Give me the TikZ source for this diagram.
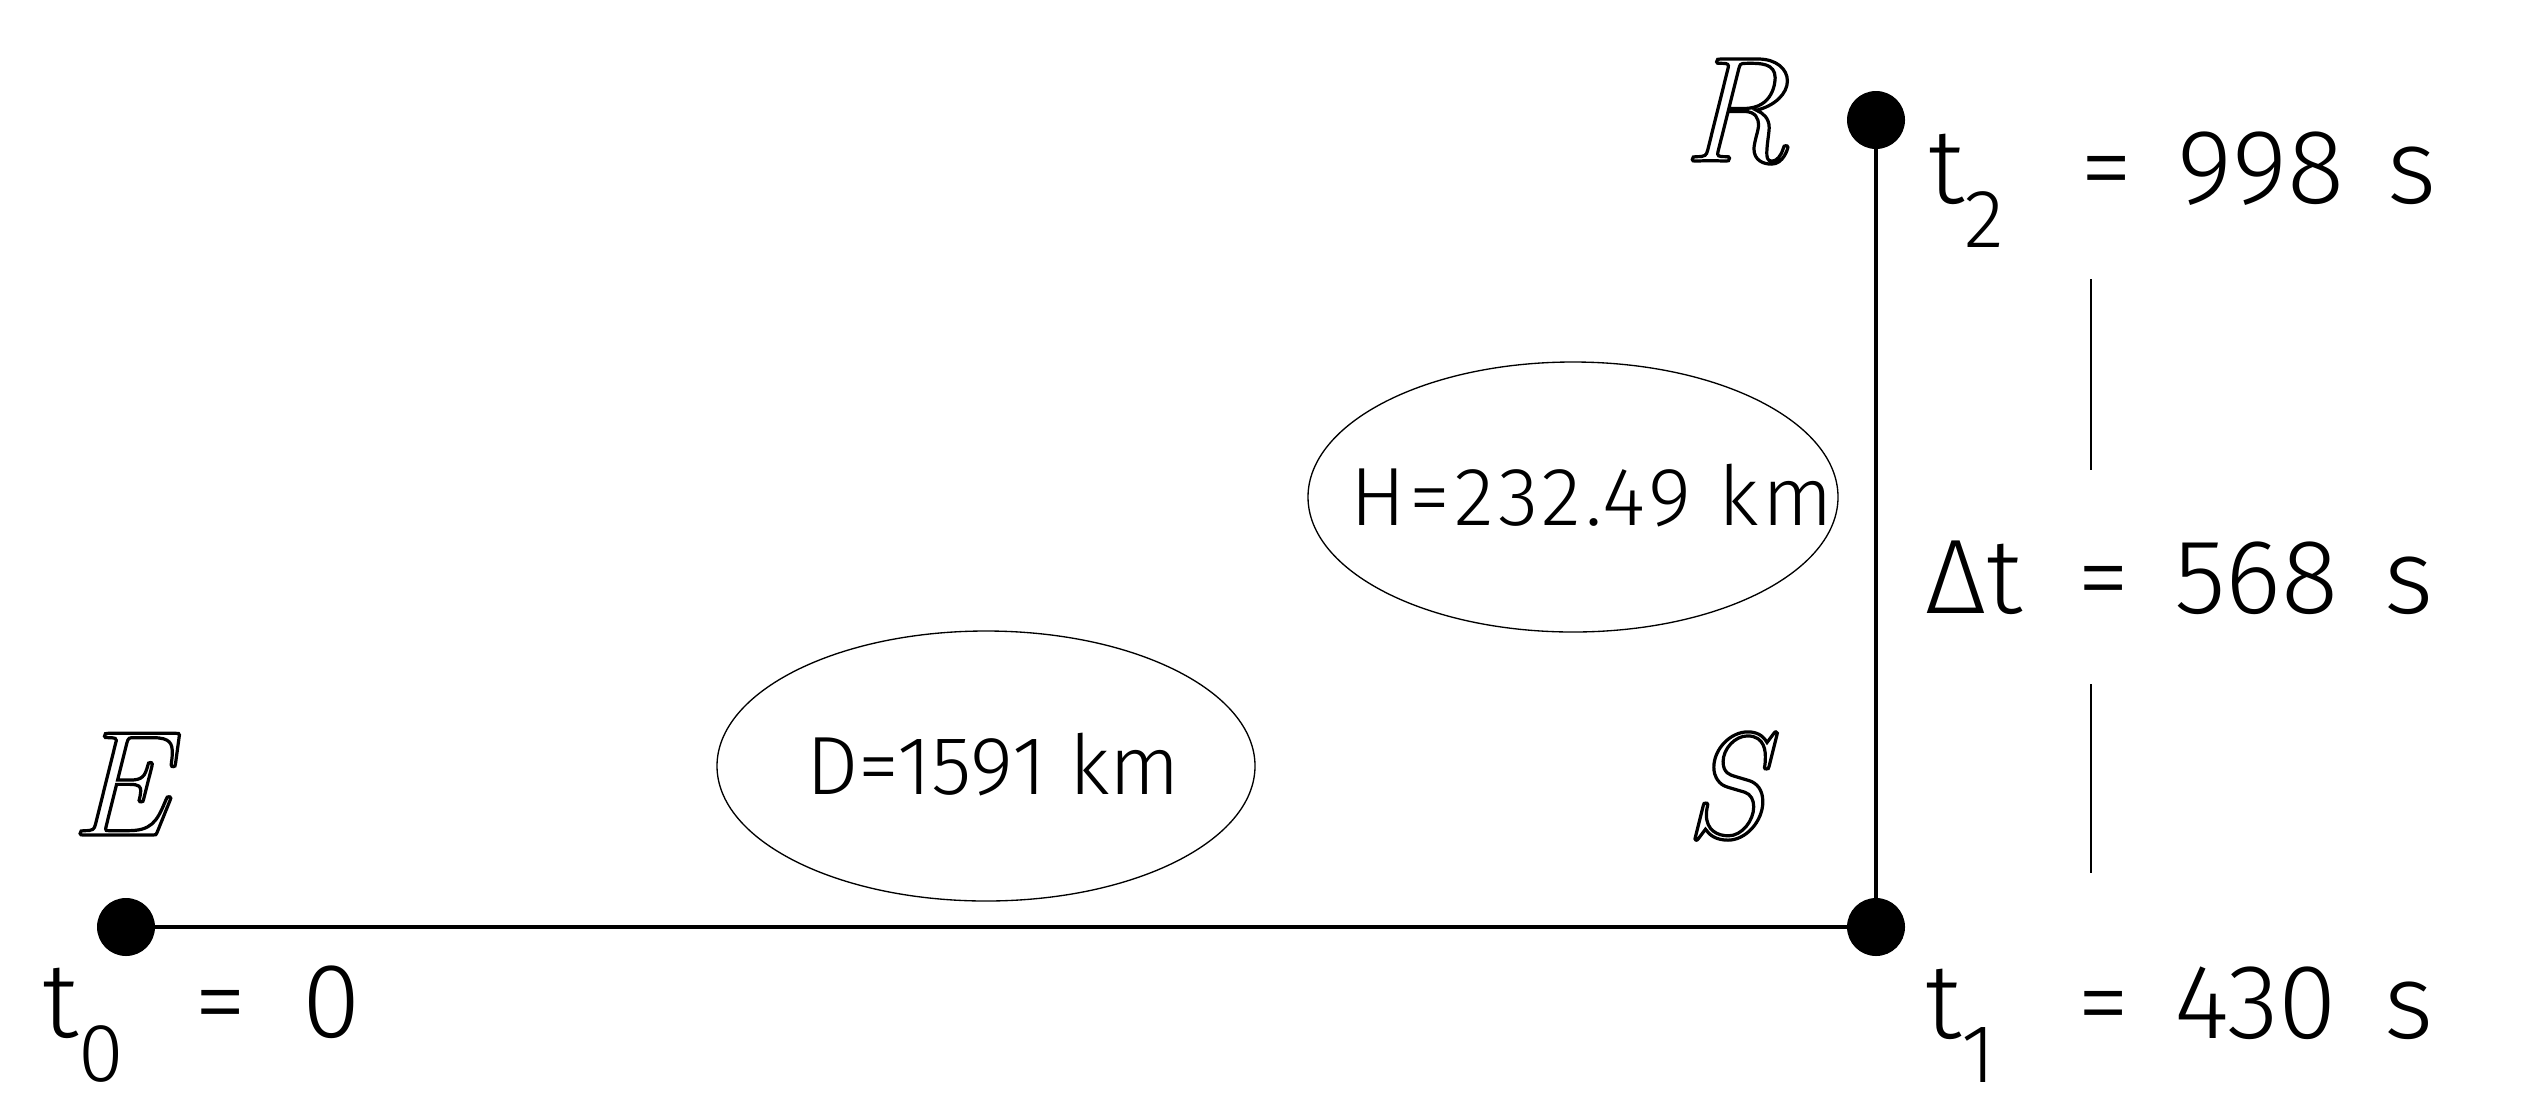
\documentclass[tikz,border=0pt]{standalone}
\usepackage{fontspec}
\newfontfamily\cadfont{Fira Sans Light}
\newfontfamily\cadfontwide{Fira Sans Light}[LetterSpace=5]
\usetikzlibrary{shapes.geometric}
\newcommand\outlinetext[1]{\special{pdf:literal direct 1 Tr 2.4 w}#1\special{pdf:literal direct 0 Tr}}
\newcommand\subdigit[1]{\raisebox{-33pt}{\fontsize{62pt}{62pt}\selectfont #1}}
\newcommand\tlabel[1]{\rlap{t}\hspace{27pt}\subdigit{#1}}
\newcommand\timeline[3]{\rlap{#1}\hspace{114pt}\rlap{=}\hspace{72.75pt}\rlap{#2}\hspace{157.5pt}#3}
\begin{document}
\begin{tikzpicture}[x=0.75pt,y=-0.75pt,
  dot/.style={circle,fill=black,inner sep=0pt,minimum size=43.5pt},
  link/.style={line width=2.7pt},
  thinline/.style={line width=0.9pt},
  oval/.style={ellipse,draw,line width=1pt,inner sep=0pt},
  bigtxt/.style={inner sep=0pt,anchor=base west,font=\cadfont\fontsize{79.5pt}{80pt}\selectfont},
  midtxt/.style={inner sep=0pt,anchor=base west,font=\cadfont\fontsize{62pt}{62pt}\selectfont},
  place/.style={inner sep=0pt,anchor=base west,font=\fontsize{112pt}{112pt}\selectfont\itshape}]
\useasboundingbox (0,0) rectangle (2544,1118);
% points
\node[dot] (E) at (126,927) {};
\node[dot] (S) at (1876,927) {};
\node[dot] (R) at (1876,120) {};
\draw[link] (E.center) -- (S.center) -- (R.center);
% ellipses
\node[oval,minimum width=403.5pt,minimum height=202.5pt] (dOval) at (986,766) {};
\node[midtxt] (dText) at (806,794) {D=1591 km};
\node[oval,minimum width=397.5pt,minimum height=202.5pt] (hOval) at (1573,497) {};
\node[midtxt,font=\cadfontwide\fontsize{62pt}{62pt}\selectfont] (hText) at (1350,525) {H=232.49 km};
% thin marks
\coordinate (g1a) at (2091,279);
\coordinate (g1b) at (2091,470);
\coordinate (g2a) at (2091,684);
\coordinate (g2b) at (2091,873);
\draw[thinline] (g1a) -- (g1b);
\draw[thinline] (g2a) -- (g2b);
% place letters
\node[place] (Elab) at (70,835) {\outlinetext{E}};
\node[place] (Slab) at (1684,837) {\outlinetext{S}};
\node[place] (Rlab) at (1682,161) {\outlinetext{R}};
% time labels
\node[bigtxt] (t2line) at (1928,203) {\timeline{\tlabel{2}}{998}{s}};
\node[bigtxt] (dtline) at (1925,613) {\timeline{Δt}{568}{s}};
\node[bigtxt] (t1line) at (1925,1038) {\timeline{\tlabel{1}}{430}{s}};
\node[bigtxt] (t0line) at (42,1037) {\rlap{\tlabel{0}}\hspace{114pt}\rlap{=}\hspace{81pt}0};
\end{tikzpicture}
\end{document}
